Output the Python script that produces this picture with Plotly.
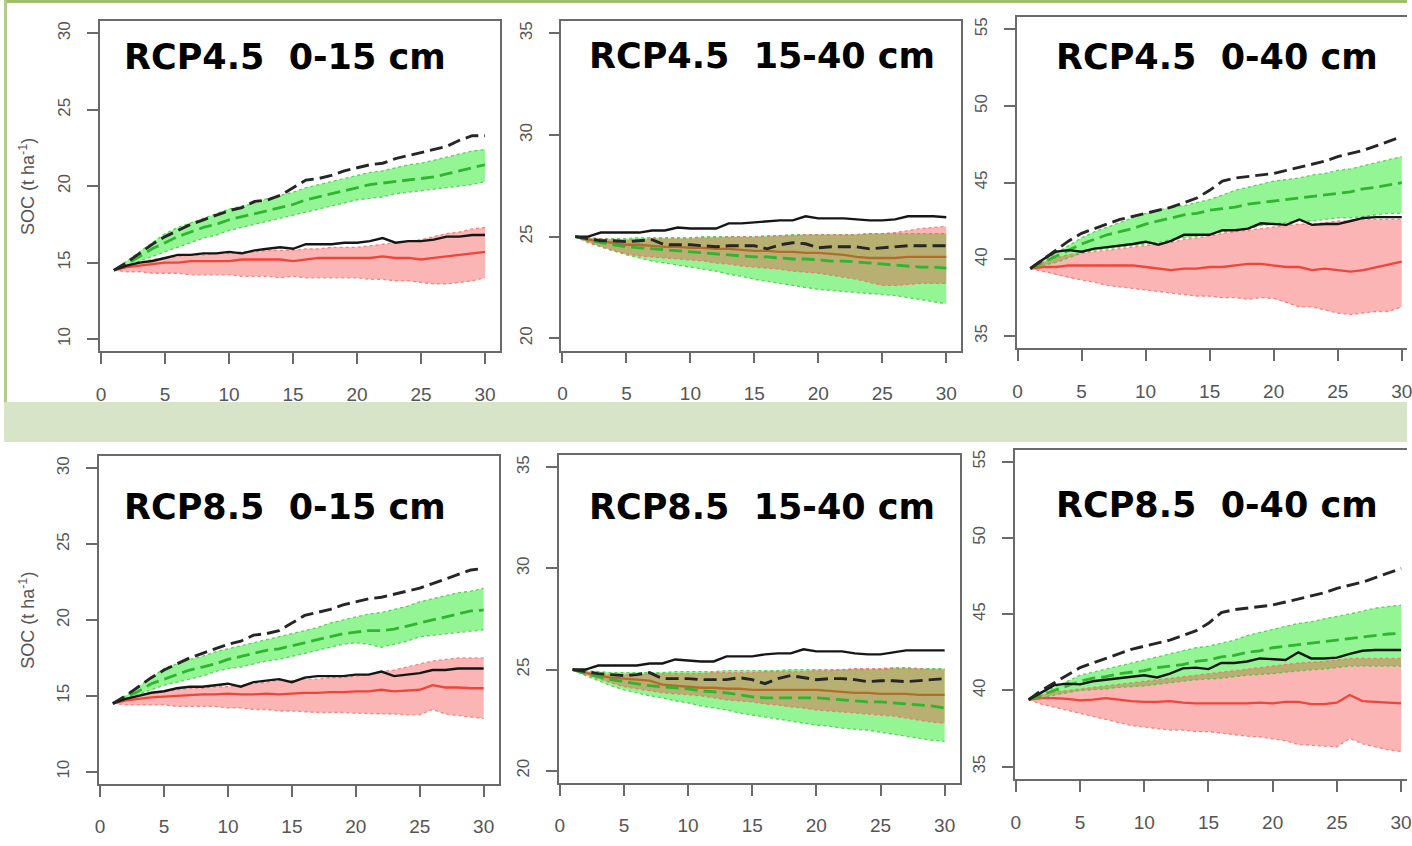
import plotly.graph_objects as go

W, H = 1412, 846
YEARS = list(range(1, 31))

# ---------------- RCP4.5 0-15 cm ----------------
BD1 = [14.5, 15.0, 15.6, 16.2, 16.7, 17.1, 17.5, 17.8, 18.1, 18.4, 18.6, 19.0, 19.1, 19.4, 19.9,
       20.4, 20.5, 20.7, 21.0, 21.2, 21.4, 21.5, 21.8, 22.0, 22.2, 22.4, 22.6, 23.0, 23.3, 23.3]
GM1 = [14.5, 14.9, 15.4, 15.9, 16.3, 16.7, 17.0, 17.3, 17.5, 17.8, 18.0, 18.2, 18.4, 18.6, 18.8,
       19.1, 19.3, 19.5, 19.7, 19.9, 20.1, 20.2, 20.3, 20.4, 20.5, 20.6, 20.8, 21.0, 21.2, 21.4]
GH1 = [14.5, 15.1, 15.7, 16.3, 16.9, 17.3, 17.6, 17.9, 18.2, 18.5, 18.7, 18.9, 19.2, 19.4, 19.6,
       19.9, 20.1, 20.3, 20.5, 20.7, 20.9, 21.0, 21.2, 21.4, 21.5, 21.7, 21.9, 22.1, 22.3, 22.4]
GL1 = [14.5, 14.8, 15.1, 15.4, 15.7, 16.0, 16.3, 16.6, 16.8, 17.1, 17.3, 17.5, 17.7, 17.9, 18.1,
       18.3, 18.5, 18.7, 18.9, 19.1, 19.2, 19.3, 19.5, 19.6, 19.7, 19.8, 19.9, 20.0, 20.1, 20.3]
BS1 = [14.5, 14.8, 15.0, 15.1, 15.3, 15.5, 15.5, 15.6, 15.6, 15.7, 15.6, 15.8, 15.9, 16.0, 15.9,
       16.2, 16.2, 16.2, 16.3, 16.3, 16.4, 16.6, 16.3, 16.4, 16.4, 16.5, 16.7, 16.7, 16.8, 16.8]
RM1 = [14.5, 14.7, 14.8, 14.9, 15.0, 15.0, 15.1, 15.1, 15.1, 15.1, 15.2, 15.2, 15.2, 15.2, 15.1,
       15.2, 15.3, 15.3, 15.3, 15.3, 15.3, 15.4, 15.3, 15.3, 15.2, 15.3, 15.4, 15.5, 15.6, 15.7]
RH1 = [14.5, 14.8, 15.0, 15.2, 15.3, 15.4, 15.5, 15.5, 15.6, 15.6, 15.7, 15.7, 15.8, 15.8, 15.8,
       15.9, 15.9, 16.0, 16.0, 16.0, 16.1, 16.2, 16.3, 16.4, 16.5, 16.7, 16.9, 17.0, 17.2, 17.3]
RL1 = [14.5, 14.4, 14.4, 14.3, 14.3, 14.3, 14.2, 14.2, 14.2, 14.2, 14.1, 14.1, 14.1, 14.0, 14.1,
       14.0, 14.0, 14.0, 14.0, 14.0, 13.9, 13.9, 13.8, 13.8, 13.7, 13.6, 13.6, 13.7, 13.8, 14.0]

# ---------------- RCP4.5 15-40 cm ----------------
BD2 = [25.0, 24.9, 24.8, 24.8, 24.75, 24.8, 24.85, 24.6, 24.6, 24.6, 24.55, 24.5, 24.55, 24.55, 24.55,
       24.4, 24.6, 24.7, 24.65, 24.45, 24.5, 24.5, 24.5, 24.4, 24.45, 24.5, 24.55, 24.55, 24.55, 24.55]
GM2 = [25.0, 24.85, 24.7, 24.6, 24.5, 24.45, 24.4, 24.35, 24.3, 24.25, 24.2, 24.15, 24.1, 24.05, 24.0,
       24.0, 23.95, 23.9, 23.9, 23.85, 23.8, 23.8, 23.75, 23.7, 23.65, 23.6, 23.55, 23.5, 23.5, 23.45]
GH2 = [25.0, 24.95, 24.9, 24.9, 24.9, 24.95, 24.95, 24.95, 24.95, 24.95, 25.0, 25.0, 25.0, 25.0, 25.0,
       25.05, 25.05, 25.1, 25.1, 25.1, 25.1, 25.1, 25.1, 25.15, 25.15, 25.15, 25.15, 25.15, 25.15, 25.15]
GL2 = [25.0, 24.75, 24.5, 24.3, 24.1, 23.95, 23.8, 23.7, 23.6, 23.5, 23.4, 23.3, 23.15, 23.05, 22.9,
       22.8, 22.7, 22.6, 22.5, 22.4, 22.35, 22.3, 22.25, 22.2, 22.15, 22.1, 22.0, 21.9, 21.8, 21.7]
BS2 = [25.0, 25.0, 25.2, 25.2, 25.2, 25.2, 25.3, 25.3, 25.45, 25.4, 25.4, 25.4, 25.65, 25.65, 25.7,
       25.75, 25.8, 25.8, 26.0, 25.9, 25.9, 25.9, 25.85, 25.8, 25.8, 25.85, 26.0, 26.0, 26.0, 25.95]
RM2 = [25.0, 24.85, 24.75, 24.7, 24.6, 24.6, 24.55, 24.5, 24.5, 24.45, 24.45, 24.4, 24.4, 24.35, 24.3,
       24.3, 24.25, 24.25, 24.2, 24.2, 24.15, 24.1, 24.0, 23.95, 23.95, 23.95, 24.0, 24.0, 24.0, 24.0]
RH2 = [25.0, 24.95, 24.9, 24.85, 24.85, 24.85, 24.9, 24.9, 24.9, 24.9, 24.95, 24.95, 25.0, 25.0, 25.0,
       25.0, 25.05, 25.05, 25.1, 25.1, 25.1, 25.1, 25.1, 25.15, 25.15, 25.2, 25.3, 25.4, 25.45, 25.5]
RL2 = [25.0, 24.7, 24.5, 24.3, 24.15, 24.05, 24.0, 23.95, 23.9, 23.85, 23.8, 23.7, 23.65, 23.55, 23.5,
       23.45, 23.4, 23.3, 23.25, 23.2, 23.1, 23.0, 22.9, 22.75, 22.6, 22.6, 22.65, 22.7, 22.7, 22.7]

# ---------------- RCP4.5 0-40 cm ----------------
BD3 = [39.4, 40.0, 40.6, 41.2, 41.7, 42.0, 42.3, 42.6, 42.8, 43.0, 43.2, 43.4, 43.7, 44.0, 44.5,
       45.1, 45.3, 45.4, 45.5, 45.6, 45.8, 46.0, 46.2, 46.4, 46.7, 46.9, 47.1, 47.4, 47.7, 48.0]
GM3 = [39.4, 39.8, 40.2, 40.6, 41.0, 41.3, 41.6, 41.8, 42.0, 42.3, 42.5, 42.7, 42.9, 43.0, 43.2,
       43.3, 43.4, 43.6, 43.7, 43.8, 43.9, 44.0, 44.1, 44.2, 44.3, 44.4, 44.6, 44.7, 44.85, 45.0]
GH3 = [39.4, 39.9, 40.4, 40.9, 41.4, 41.8, 42.1, 42.4, 42.7, 43.0, 43.2, 43.4, 43.5, 43.7, 43.9,
       44.2, 44.5, 44.7, 44.9, 45.1, 45.2, 45.3, 45.5, 45.6, 45.8, 45.9, 46.1, 46.3, 46.5, 46.7]
GL3 = [39.4, 39.6, 39.8, 40.1, 40.4, 40.6, 40.7, 40.8, 40.9, 41.0, 41.1, 41.3, 41.4, 41.5, 41.6,
       41.8, 41.9, 42.0, 42.2, 42.3, 42.4, 42.5, 42.5, 42.6, 42.7, 42.7, 42.8, 42.9, 43.0, 43.0]
BS3 = [39.4, 40.0, 40.5, 40.6, 40.5, 40.7, 40.8, 40.9, 41.0, 41.15, 40.95, 41.2, 41.6, 41.6, 41.6,
       41.9, 41.9, 42.0, 42.35, 42.3, 42.25, 42.6, 42.25, 42.3, 42.3, 42.5, 42.7, 42.75, 42.75, 42.75]
RM3 = [39.4, 39.5, 39.5, 39.6, 39.6, 39.6, 39.6, 39.6, 39.6, 39.5, 39.4, 39.3, 39.4, 39.4, 39.5,
       39.5, 39.6, 39.7, 39.7, 39.6, 39.5, 39.5, 39.3, 39.4, 39.3, 39.2, 39.3, 39.5, 39.7, 39.85]
RH3 = [39.4, 39.8, 40.1, 40.3, 40.4, 40.5, 40.6, 40.7, 40.8, 40.9, 41.0, 41.1, 41.3, 41.4, 41.5,
       41.7, 41.8, 41.9, 42.0, 42.1, 42.2, 42.3, 42.3, 42.4, 42.5, 42.5, 42.6, 42.6, 42.6, 42.6]
RL3 = [39.4, 39.2, 39.0, 38.8, 38.65, 38.5, 38.3, 38.2, 38.1, 38.0, 37.9, 37.8, 37.7, 37.6, 37.6,
       37.5, 37.5, 37.4, 37.5, 37.45, 37.2, 36.9, 36.9, 36.7, 36.5, 36.4, 36.5, 36.6, 36.6, 36.9]

# ---------------- RCP8.5 0-15 cm ----------------
BD4 = [14.5, 15.0, 15.6, 16.2, 16.7, 17.1, 17.5, 17.8, 18.1, 18.4, 18.6, 19.0, 19.1, 19.3, 19.8,
       20.3, 20.5, 20.7, 21.0, 21.2, 21.4, 21.5, 21.7, 21.9, 22.1, 22.4, 22.7, 23.0, 23.3, 23.4]
GM4 = [14.5, 14.9, 15.3, 15.8, 16.1, 16.4, 16.7, 16.9, 17.1, 17.4, 17.6, 17.8, 18.0, 18.1, 18.3,
       18.5, 18.7, 18.9, 19.1, 19.2, 19.3, 19.3, 19.4, 19.6, 19.8, 20.0, 20.2, 20.4, 20.6, 20.65]
GH4 = [14.5, 15.0, 15.6, 16.2, 16.8, 17.1, 17.4, 17.6, 17.9, 18.1, 18.3, 18.5, 18.7, 18.9, 19.1,
       19.3, 19.5, 19.8, 20.0, 20.2, 20.4, 20.5, 20.7, 20.9, 21.2, 21.4, 21.6, 21.8, 21.9, 22.1]
GL4 = [14.5, 14.8, 15.1, 15.4, 15.7, 15.9, 16.1, 16.3, 16.6, 16.8, 16.9, 17.1, 17.3, 17.4, 17.6,
       17.8, 18.0, 18.2, 18.4, 18.5, 18.4, 18.2, 18.4, 18.6, 18.9, 19.0, 19.1, 19.2, 19.3, 19.35]
BS4 = [14.5, 14.8, 15.0, 15.2, 15.3, 15.5, 15.6, 15.6, 15.7, 15.8, 15.6, 15.9, 16.0, 16.1, 15.9,
       16.2, 16.3, 16.3, 16.3, 16.4, 16.4, 16.6, 16.3, 16.4, 16.5, 16.7, 16.7, 16.8, 16.8, 16.8]
RM4 = [14.5, 14.7, 14.8, 14.9, 14.95, 15.0, 15.05, 15.1, 15.1, 15.15, 15.1, 15.1, 15.15, 15.1, 15.15,
       15.2, 15.2, 15.25, 15.25, 15.3, 15.3, 15.4, 15.3, 15.35, 15.4, 15.7, 15.55, 15.55, 15.5, 15.5]
RH4 = [14.5, 14.8, 15.0, 15.2, 15.3, 15.4, 15.5, 15.5, 15.6, 15.6, 15.7, 15.8, 15.9, 16.0, 16.0,
       16.1, 16.1, 16.2, 16.2, 16.3, 16.4, 16.6, 16.7, 16.9, 17.1, 17.3, 17.4, 17.5, 17.5, 17.5]
RL4 = [14.5, 14.4, 14.4, 14.4, 14.4, 14.3, 14.3, 14.3, 14.3, 14.2, 14.2, 14.1, 14.1, 14.0, 14.0,
       13.95, 13.9, 13.9, 13.9, 13.85, 13.85, 13.8, 13.8, 13.75, 13.75, 14.1, 13.8, 13.7, 13.6, 13.5]

# ---------------- RCP8.5 15-40 cm ----------------
BD5 = [25.0, 24.9, 24.8, 24.75, 24.7, 24.75, 24.85, 24.55, 24.55, 24.55, 24.5, 24.5, 24.5, 24.6, 24.5,
       24.3, 24.55, 24.7, 24.6, 24.5, 24.55, 24.55, 24.5, 24.4, 24.45, 24.45, 24.4, 24.45, 24.5, 24.55]
GM5 = [25.0, 24.8, 24.65, 24.5, 24.4, 24.3, 24.2, 24.15, 24.1, 24.05, 23.95, 23.9, 23.85, 23.75, 23.65,
       23.6, 23.6, 23.6, 23.6, 23.6, 23.55, 23.5, 23.45, 23.4, 23.4, 23.35, 23.3, 23.25, 23.2, 23.1]
GH5 = [25.0, 24.95, 24.9, 24.85, 24.85, 24.85, 24.85, 24.85, 24.9, 24.9, 24.9, 24.9, 24.95, 24.95, 24.95,
       24.95, 24.95, 25.0, 25.0, 25.0, 25.0, 25.0, 25.0, 25.0, 25.0, 25.05, 25.05, 25.05, 25.05, 25.05]
GL5 = [25.0, 24.7, 24.45, 24.2, 24.0, 23.85, 23.7, 23.6, 23.45, 23.35, 23.2, 23.1, 23.0, 22.85, 22.75,
       22.65, 22.55, 22.45, 22.35, 22.25, 22.2, 22.1, 22.05, 22.0, 21.9, 21.8, 21.7, 21.6, 21.5, 21.45]
BS5 = [25.0, 25.0, 25.2, 25.2, 25.2, 25.2, 25.3, 25.3, 25.5, 25.45, 25.4, 25.4, 25.65, 25.65, 25.65,
       25.75, 25.8, 25.8, 26.0, 25.9, 25.9, 25.9, 25.8, 25.75, 25.75, 25.85, 25.95, 25.95, 25.95, 25.95]
RM5 = [25.0, 24.85, 24.7, 24.6, 24.55, 24.5, 24.45, 24.25, 24.2, 24.15, 24.1, 24.1, 24.05, 24.05, 24.0,
       24.0, 24.0, 24.0, 24.0, 24.0, 23.95, 23.9, 23.85, 23.85, 23.8, 23.8, 23.8, 23.75, 23.75, 23.75]
RH5 = [25.0, 24.9, 24.8, 24.75, 24.75, 24.75, 24.8, 24.8, 24.8, 24.8, 24.8, 24.85, 24.85, 24.85, 24.85,
       24.9, 24.9, 24.9, 24.9, 24.95, 24.95, 25.0, 25.05, 25.05, 25.05, 25.1, 25.1, 25.05, 25.0, 25.0]
RL5 = [25.0, 24.75, 24.55, 24.35, 24.15, 24.05, 23.95, 23.85, 23.8, 23.75, 23.7, 23.6, 23.5, 23.45, 23.4,
       23.3, 23.25, 23.15, 23.1, 23.0, 22.95, 22.9, 22.85, 22.8, 22.75, 22.7, 22.6, 22.5, 22.4, 22.35]

# ---------------- RCP8.5 0-40 cm ----------------
BD6 = [39.4, 40.0, 40.5, 41.0, 41.5, 41.8, 42.1, 42.4, 42.7, 42.9, 43.1, 43.3, 43.6, 43.9, 44.4,
       45.1, 45.3, 45.4, 45.5, 45.6, 45.8, 46.0, 46.2, 46.4, 46.7, 46.9, 47.1, 47.4, 47.7, 48.0]
GM6 = [39.4, 39.7, 40.0, 40.3, 40.6, 40.8, 40.9, 41.1, 41.2, 41.3, 41.5, 41.6, 41.7, 41.9, 42.0,
       42.2, 42.3, 42.5, 42.6, 42.8, 42.9, 43.0, 43.1, 43.2, 43.3, 43.4, 43.5, 43.6, 43.7, 43.75]
GH6 = [39.4, 39.8, 40.2, 40.6, 41.0, 41.2, 41.4, 41.6, 41.8, 42.0, 42.2, 42.4, 42.6, 42.8, 42.9,
       43.1, 43.3, 43.6, 43.8, 44.0, 44.2, 44.4, 44.5, 44.7, 44.85, 45.0, 45.2, 45.4, 45.5, 45.6]
GL6 = [39.4, 39.5, 39.7, 39.85, 40.0, 40.05, 40.1, 40.2, 40.25, 40.3, 40.4, 40.5, 40.6, 40.7, 40.75,
       40.8, 40.9, 41.0, 41.05, 41.1, 41.2, 41.3, 41.35, 41.4, 41.5, 41.6, 41.6, 41.6, 41.6, 41.6]
BS6 = [39.4, 39.9, 40.35, 40.45, 40.4, 40.6, 40.7, 40.8, 40.9, 41.0, 40.85, 41.1, 41.45, 41.5, 41.4,
       41.8, 41.8, 41.9, 42.1, 42.05, 42.0, 42.5, 42.1, 42.1, 42.15, 42.4, 42.6, 42.65, 42.65, 42.65]
RM6 = [39.4, 39.5, 39.5, 39.45, 39.35, 39.4, 39.5, 39.4, 39.3, 39.25, 39.25, 39.3, 39.2, 39.15, 39.15,
       39.15, 39.15, 39.15, 39.2, 39.15, 39.25, 39.25, 39.1, 39.1, 39.2, 39.7, 39.3, 39.25, 39.2, 39.15]
RH6 = [39.4, 39.7, 39.9, 40.0, 40.1, 40.2, 40.3, 40.4, 40.5, 40.6, 40.7, 40.8, 40.9, 41.0, 41.1,
       41.2, 41.3, 41.4, 41.5, 41.6, 41.7, 41.8, 41.85, 41.9, 42.0, 42.1, 42.1, 42.1, 42.1, 42.1]
RL6 = [39.4, 39.1, 38.9, 38.7, 38.5, 38.3, 38.1, 37.9, 37.7, 37.6, 37.5, 37.4, 37.4, 37.3, 37.3,
       37.2, 37.1, 37.0, 36.95, 36.85, 36.7, 36.45, 36.4, 36.35, 36.3, 36.85, 36.5, 36.3, 36.1, 36.0]

TITLES = ["RCP4.5\u00a0 0-15 cm", "RCP4.5\u00a0 15-40 cm", "RCP4.5\u00a0 0-40 cm",
          "RCP8.5\u00a0 0-15 cm", "RCP8.5\u00a0 15-40 cm", "RCP8.5\u00a0 0-40 cm"]
Y_TITLE = "SOC (t ha<sup>-1</sup>)"
X_TICKS = [0, 5, 10, 15, 20, 25, 30]
Y_TICKS = [[10, 15, 20, 25, 30], [20, 25, 30, 35], [35, 40, 45, 50, 55]] * 2
Y_RANGES = [[9.2, 30.8], [19.4, 35.6], [34.2, 55.8]] * 2
X_RANGES = [[-0.08, 31.17], [-0.08, 31.17], [-0.08, 30.41],
            [-0.08, 31.17], [-0.08, 31.17], [-0.08, 30.46]]

PANELS = [
    dict(bd=BD1, gm=GM1, gh=GH1, gl=GL1, bs=BS1, rm=RM1, rh=RH1, rl=RL1),
    dict(bd=BD2, gm=GM2, gh=GH2, gl=GL2, bs=BS2, rm=RM2, rh=RH2, rl=RL2),
    dict(bd=BD3, gm=GM3, gh=GH3, gl=GL3, bs=BS3, rm=RM3, rh=RH3, rl=RL3),
    dict(bd=BD4, gm=GM4, gh=GH4, gl=GL4, bs=BS4, rm=RM4, rh=RH4, rl=RL4),
    dict(bd=BD5, gm=GM5, gh=GH5, gl=GL5, bs=BS5, rm=RM5, rh=RH5, rl=RL5),
    dict(bd=BD6, gm=GM6, gh=GH6, gl=GL6, bs=BS6, rm=RM6, rh=RH6, rl=RL6),
]

# ---- layout geometry (pixels: left, right, top, bottom) ----
BOX_PX = [(96.7, 499.2, 21.1, 351.2), (561.0, 963.4, 21.1, 350.5), (1019.0, 1412.0, 17.0, 348.3),
          (95.7, 497.8, 456.2, 783.8), (558.3, 961.8, 455.2, 782.8), (1017.3, 1412.0, 449.5, 778.9)]
TITLE_PX = [(282.5, 56.5), (763, 56.0), (1221, 56.5), (282.5, 507.5), (763, 507.5), (1221, 505.5)]

G_FILL = "rgba(0,230,0,0.42)"
R_FILL = "rgba(245,60,60,0.38)"
G_EDGE = "rgba(60,200,60,0.8)"
R_EDGE = "rgba(240,110,110,0.8)"
AX = "#6a6a6a"
TICKFONT = dict(family="Liberation Sans, Arial, sans-serif", size=19, color="#555555")

fig = go.Figure()

for i, p in enumerate(PANELS):
    n = i + 1
    xa = "x" if n == 1 else f"x{n}"
    ya = "y" if n == 1 else f"y{n}"
    kw = dict(xaxis=xa, yaxis=ya, showlegend=False, hoverinfo="skip")
    rx = YEARS[::-1]
    # red mean line (drawn beneath the bands, as in the original)
    fig.add_trace(go.Scatter(x=YEARS, y=p["rm"], mode="lines",
                             line=dict(color="rgb(238,75,55)", width=2.3), **kw))
    # green band
    fig.add_trace(go.Scatter(x=YEARS + rx, y=p["gh"] + p["gl"][::-1], fill="toself",
                             fillcolor=G_FILL, line=dict(width=0), mode="lines", **kw))
    # red band
    fig.add_trace(go.Scatter(x=YEARS + rx, y=p["rh"] + p["rl"][::-1], fill="toself",
                             fillcolor=R_FILL, line=dict(width=0), mode="lines", **kw))
    for key, col in (("gh", G_EDGE), ("gl", G_EDGE), ("rh", R_EDGE), ("rl", R_EDGE)):
        fig.add_trace(go.Scatter(x=YEARS, y=p[key], mode="lines",
                                 line=dict(color=col, width=1.3, dash="dot"), **kw))
    fig.add_trace(go.Scatter(x=YEARS, y=p["gm"], mode="lines",
                             line=dict(color="#2fb52f", width=2.8, dash="13px,6px"), **kw))
    fig.add_trace(go.Scatter(x=YEARS, y=p["bs"], mode="lines",
                             line=dict(color="#161616", width=2.4), **kw))
    fig.add_trace(go.Scatter(x=YEARS, y=p["bd"], mode="lines",
                             line=dict(color="#262626", width=2.9, dash="13px,6px"), **kw))

    l, r, t, b = BOX_PX[i]
    right_open = r >= W
    xkey = "xaxis" if n == 1 else f"xaxis{n}"
    ykey = "yaxis" if n == 1 else f"yaxis{n}"
    fig.layout[xkey] = dict(
        domain=[l / W, min(r / W, 1.0)], range=X_RANGES[i], anchor=ya,
        showgrid=False, zeroline=False, showline=True, mirror=True,
        linecolor=AX, linewidth=1.6, ticks="outside", ticklen=11, tickwidth=1.6,
        tickcolor=AX, tickvals=X_TICKS, ticktext=[str(v) for v in X_TICKS],
        tickfont=TICKFONT, ticklabelstandoff=14, ticklabeloverflow="allow",
    )
    fig.layout[ykey] = dict(
        domain=[1 - b / H, 1 - t / H], range=Y_RANGES[i], anchor=xa,
        showgrid=False, zeroline=False, showline=True, mirror=(not right_open),
        linecolor=AX, linewidth=1.6, ticks="outside", ticklen=11, tickwidth=1.6,
        tickcolor=AX, tickvals=Y_TICKS[i], ticktext=[str(v) for v in Y_TICKS[i]],
        tickfont=dict(TICKFONT, size=17), tickangle=-90, ticklabelstandoff=10,
    )
    tx, ty = TITLE_PX[i]
    fig.add_annotation(x=tx / W, y=1 - ty / H, xref="paper", yref="paper",
                       text=f"<b>{TITLES[i]}</b>", showarrow=False,
                       xanchor="center", yanchor="middle",
                       font=dict(family="DejaVu Sans", size=35, color="#000000"))
    if i in (0, 3):
        fig.add_annotation(x=23 / W, y=1 - ((t + b) / 2) / H, xref="paper", yref="paper",
                           text=Y_TITLE, showarrow=False, textangle=-90,
                           xanchor="center", yanchor="middle",
                           font=dict(family="Liberation Sans, Arial, sans-serif", size=18,
                                     color="#555555"))

shapes = [
    # light green band between rows
    dict(type="rect", xref="paper", yref="paper", x0=0, x1=1,
         y0=1 - 442 / H, y1=1 - 402 / H, fillcolor="#d8e4c8", line=dict(width=0), layer="below"),
    # top border
    dict(type="rect", xref="paper", yref="paper", x0=0, x1=1,
         y0=1 - 3 / H, y1=1, fillcolor="#9fc06a", line=dict(width=0), layer="below"),
    # left border of top row
    dict(type="rect", xref="paper", yref="paper", x0=0, x1=3 / W,
         y0=1 - 402 / H, y1=1, fillcolor="#b3cd88", line=dict(width=0), layer="below"),
]

fig.update_layout(
    width=W, height=H, margin=dict(l=0, r=0, t=0, b=0),
    paper_bgcolor="white", plot_bgcolor="rgba(0,0,0,0)",
    shapes=shapes, showlegend=False,
)

fig.write_html("out.html", config={"displayModeBar": False},
               post_script="document.body.style.margin='0';document.body.style.overflow='hidden';")
